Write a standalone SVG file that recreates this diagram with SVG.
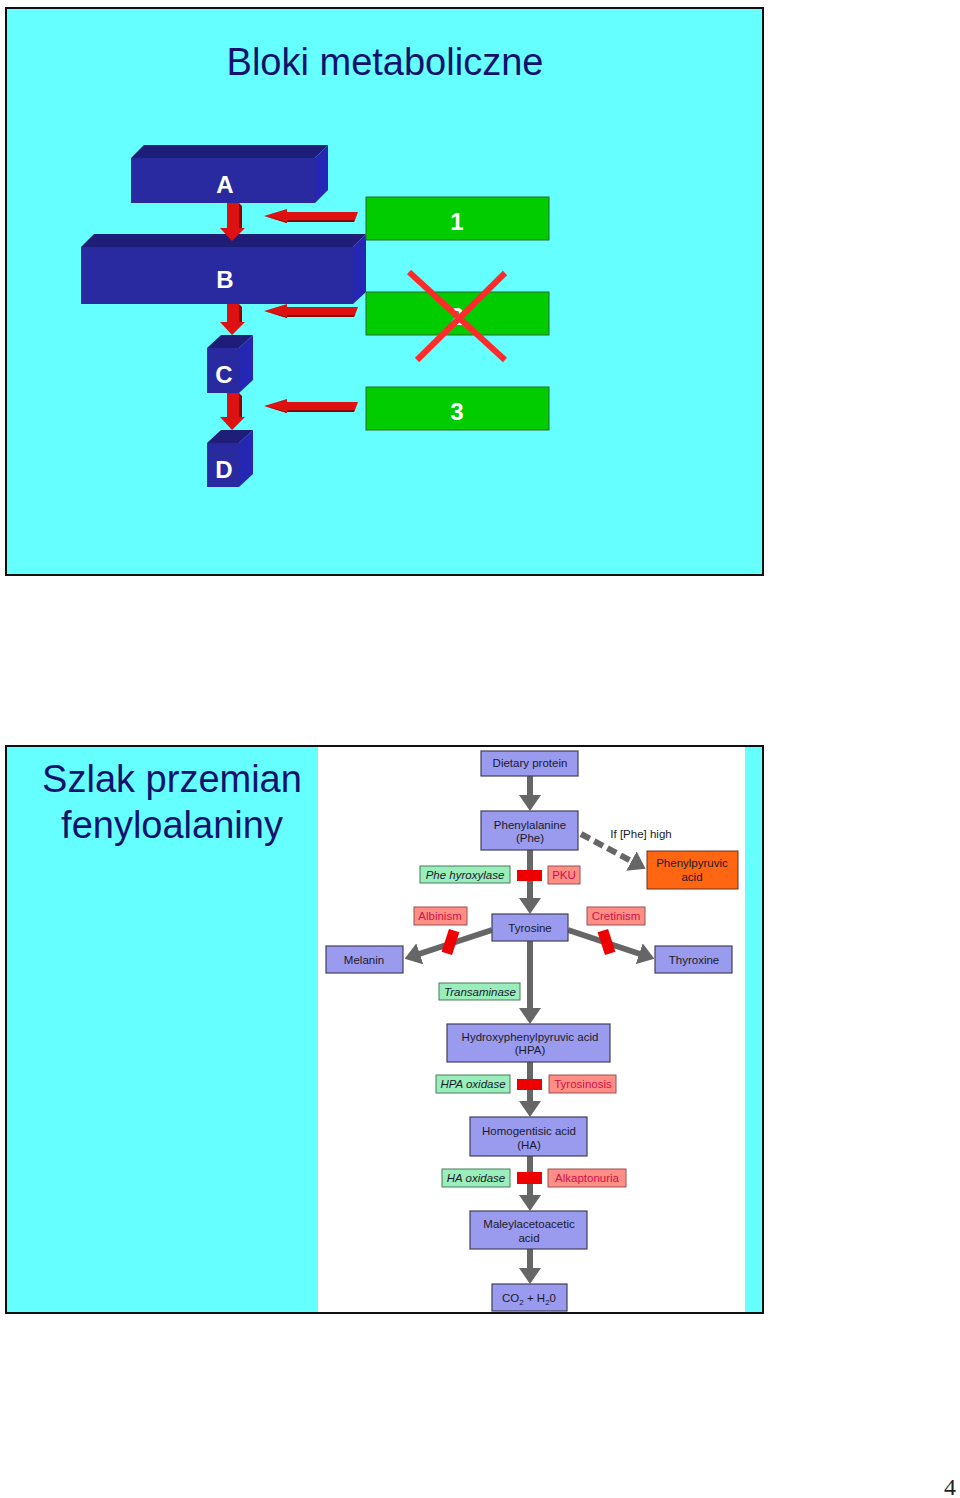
<svg xmlns="http://www.w3.org/2000/svg" width="960" height="1498" viewBox="0 0 960 1498">
<style>
.title{font-family:"Liberation Sans",Arial,sans-serif;font-size:38px;fill:#12126e;text-anchor:middle}
.blk{font-family:"Liberation Sans",Arial,sans-serif;font-size:24px;font-weight:bold;fill:#ffffff;text-anchor:middle}
.front{fill:#2a2aa0}
.top{fill:#1e1e78}
.side{fill:#2626b4}
.green{fill:#00cc00;stroke:#2a6a2a;stroke-width:1}
.red{fill:#dd1111}
.redd{fill:#8a0000}
.box{fill:#9a9aee;stroke:#40405a;stroke-width:1.2}
.enz{fill:#99eebb;stroke:#4a7a5a;stroke-width:1}
.dis{fill:#ff8f86;stroke:#9a5050;stroke-width:1}
.t{font-family:"Liberation Sans",Arial,sans-serif;font-size:11.5px;fill:#1a1a2a;text-anchor:middle}
.ti{font-family:"Liberation Sans",Arial,sans-serif;font-size:11.5px;font-style:italic;fill:#1a1a2a;text-anchor:middle}
.td{font-family:"Liberation Sans",Arial,sans-serif;font-size:11.5px;fill:#d0104a;text-anchor:middle}
.conn{stroke:#666666;stroke-width:6;fill:none}
.blockbar{fill:#ee0000}
</style>
<defs>
<marker id="ah" markerUnits="userSpaceOnUse" markerWidth="16" markerHeight="22" viewBox="0 0 16 22" refX="4" refY="11" orient="auto">
<path d="M0,0 L16,11 L0,22 z" fill="#666666"/>
</marker>
</defs>
<rect x="0" y="0" width="960" height="1498" fill="#ffffff"/>

<!-- Slide 1 -->
<g id="slide1">
<rect x="6" y="8" width="757" height="567" fill="#66ffff" stroke="#111111" stroke-width="2"/>
<text class="title" x="385" y="75">Bloki metaboliczne</text>
</g>

<g id="blockA">
<polygon class="top" points="131,158 144,145 328,145 315,158"/>
<polygon class="side" points="315,158 328,145 328,190 315,203"/>
<rect class="front" x="131" y="158" width="184" height="45"/>
<text class="blk" x="225" y="193">A</text>
</g>
<g id="blockB">
<polygon class="top" points="81,247 94,234 366,234 353,247"/>
<polygon class="side" points="353,247 366,234 366,292 353,304"/>
<rect class="front" x="81" y="247" width="272" height="57"/>
<text class="blk" x="225" y="288">B</text>
</g>
<g id="blockC">
<polygon class="top" points="207,348 221,335 253,335 239,348"/>
<polygon class="side" points="239,348 253,335 253,380 239,393"/>
<rect class="front" x="207" y="348" width="32" height="45"/>
<text class="blk" x="224" y="383">C</text>
</g>
<g id="blockD">
<polygon class="top" points="207,443 221,430 253,430 239,443"/>
<polygon class="side" points="239,443 253,430 253,474 239,487"/>
<rect class="front" x="207" y="443" width="32" height="44"/>
<text class="blk" x="224" y="478">D</text>
</g>

<g id="enzyme1">
<rect class="green" x="366" y="197" width="183" height="43"/>
<text class="blk" x="457" y="230">1</text>
</g>
<g id="enzyme2">
<rect class="green" x="366" y="292" width="183" height="43"/>
<text class="blk" x="457" y="325">2</text>
<line x1="409" y1="272" x2="505" y2="360" stroke="#ff2a2a" stroke-width="6"/>
<line x1="505" y1="273" x2="417" y2="360" stroke="#ff2a2a" stroke-width="6"/>
</g>
<g id="enzyme3">
<rect class="green" x="366" y="387" width="183" height="43"/>
<text class="blk" x="457" y="420">3</text>
</g>

<g id="connectors-top">
<!-- down arrows -->
<polygon class="red" points="227,203 239,203 239,228 245,228 232,241 220,228 227,228"/>
<polygon class="redd" points="239,203 242,206 242,228 245,228 239,228"/>
<polygon class="red" points="227,304 239,304 239,322 245,322 232,335 220,322 227,322"/>
<polygon class="redd" points="239,304 242,307 242,322 245,322 239,322"/>
<polygon class="red" points="227,393 239,393 239,417 245,417 232,430 220,417 227,417"/>
<polygon class="redd" points="239,393 242,396 242,417 245,417 239,417"/>
<!-- left arrows -->
<polygon class="red" points="264,216 287,209 287,212 358,212 355,220 287,220 287,223"/>
<polygon class="redd" points="264,216 287,223 287,220 355,220 354,222 287,222"/>
<polygon class="red" points="264,311 287,304 287,307 358,307 355,315 287,315 287,318"/>
<polygon class="redd" points="264,311 287,318 287,315 355,315 354,317 287,317"/>
<polygon class="red" points="264,406 287,399 287,402 358,402 355,410 287,410 287,413"/>
<polygon class="redd" points="264,406 287,413 287,410 355,410 354,412 287,412"/>
</g>

<!-- Slide 2 -->
<g id="slide2">
<rect x="6" y="746" width="757" height="567" fill="#66ffff" stroke="#111111" stroke-width="2"/>
<rect x="318" y="747" width="427" height="565" fill="#ffffff"/>
<text class="title" x="172" y="792">Szlak przemian</text>
<text class="title" x="172" y="838">fenyloalaniny</text>
</g>

<g id="connectors">
<line class="conn" x1="530" y1="776" x2="530" y2="799" marker-end="url(#ah)"/>
<line class="conn" x1="530" y1="850" x2="530" y2="902" marker-end="url(#ah)"/>
<line class="conn" x1="530" y1="941" x2="530" y2="1012" marker-end="url(#ah)"/>
<line class="conn" x1="530" y1="1062" x2="530" y2="1105" marker-end="url(#ah)"/>
<line class="conn" x1="530" y1="1156" x2="530" y2="1199" marker-end="url(#ah)"/>
<line class="conn" x1="530" y1="1249" x2="530" y2="1272" marker-end="url(#ah)"/>
<line class="conn" x1="492" y1="930" x2="416" y2="955" marker-end="url(#ah)"/>
<line class="conn" x1="568" y1="930" x2="643" y2="955" marker-end="url(#ah)"/>
<line class="conn" x1="581" y1="834" x2="635" y2="863" stroke-dasharray="10,5" marker-end="url(#ah)"/>
<!-- block bars -->
<rect class="blockbar" x="517" y="870" width="25" height="11"/>
<rect class="blockbar" x="517" y="1079" width="25" height="11"/>
<rect class="blockbar" x="517" y="1172" width="25" height="12"/>
<rect class="blockbar" x="445" y="930" width="11" height="24" transform="rotate(18 450.5 942)"/>
<rect class="blockbar" x="601" y="930" width="11" height="24" transform="rotate(-18 606.5 942)"/>
</g>

<g id="n-dietary"><rect class="box" x="481" y="751" width="97" height="25"/><text class="t" x="530" y="767">Dietary protein</text></g>
<g id="n-phe"><rect class="box" x="481" y="811" width="97" height="39"/><text class="t" x="530" y="829">Phenylalanine</text><text class="t" x="530" y="842">(Phe)</text></g>
<g id="n-ifphe"><text class="t" x="641" y="838">If [Phe] high</text></g>
<g id="n-phepyr"><rect x="647" y="851" width="91" height="38" fill="#ff6611" stroke="#663322" stroke-width="1"/><text class="t" x="692" y="867">Phenylpyruvic</text><text class="t" x="692" y="881">acid</text></g>
<g id="n-phehyd"><rect class="enz" x="420" y="866" width="90" height="17"/><text class="ti" x="465" y="879">Phe hyroxylase</text></g>
<g id="n-pku"><rect class="dis" x="548" y="866" width="32" height="18"/><text class="td" x="564" y="879">PKU</text></g>
<g id="n-albinism"><rect class="dis" x="414" y="907" width="53" height="18"/><text class="td" x="440" y="920">Albinism</text></g>
<g id="n-tyrosine"><rect class="box" x="492" y="914" width="76" height="27"/><text class="t" x="530" y="932">Tyrosine</text></g>
<g id="n-cretinism"><rect class="dis" x="587" y="907" width="58" height="18"/><text class="td" x="616" y="920">Cretinism</text></g>
<g id="n-melanin"><rect class="box" x="326" y="946" width="77" height="27"/><text class="t" x="364" y="964">Melanin</text></g>
<g id="n-thyroxine"><rect class="box" x="655" y="946" width="77" height="27"/><text class="t" x="694" y="964">Thyroxine</text></g>
<g id="n-transaminase"><rect class="enz" x="439" y="983" width="81" height="17"/><text class="ti" x="480" y="996">Transaminase</text></g>
<g id="n-hpa"><rect class="box" x="447" y="1024" width="163" height="38"/><text class="t" x="530" y="1041">Hydroxyphenylpyruvic acid</text><text class="t" x="530" y="1054">(HPA)</text></g>
<g id="n-hpaox"><rect class="enz" x="436" y="1075" width="74" height="18"/><text class="ti" x="473" y="1088">HPA oxidase</text></g>
<g id="n-tyrosinosis"><rect class="dis" x="549" y="1075" width="67" height="18"/><text class="td" x="583" y="1088">Tyrosinosis</text></g>
<g id="n-ha"><rect class="box" x="470" y="1117" width="117" height="39"/><text class="t" x="529" y="1135">Homogentisic acid</text><text class="t" x="529" y="1149">(HA)</text></g>
<g id="n-haox"><rect class="enz" x="442" y="1169" width="68" height="18"/><text class="ti" x="476" y="1182">HA oxidase</text></g>
<g id="n-alkap"><rect class="dis" x="548" y="1169" width="78" height="18"/><text class="td" x="587" y="1182">Alkaptonuria</text></g>
<g id="n-mal"><rect class="box" x="470" y="1211" width="117" height="38"/><text class="t" x="529" y="1228">Maleylacetoacetic</text><text class="t" x="529" y="1242">acid</text></g>
<g id="n-co2"><rect class="box" x="492" y="1284" width="75" height="27"/><text class="t" x="529" y="1302">CO<tspan font-size="8" dy="3">2</tspan><tspan dy="-3"> + H</tspan><tspan font-size="8" dy="3">2</tspan><tspan dy="-3">0</tspan></text></g>

<text x="950" y="1495" font-family="Liberation Serif,serif" font-size="24" fill="#222222" text-anchor="middle">4</text>
</svg>
